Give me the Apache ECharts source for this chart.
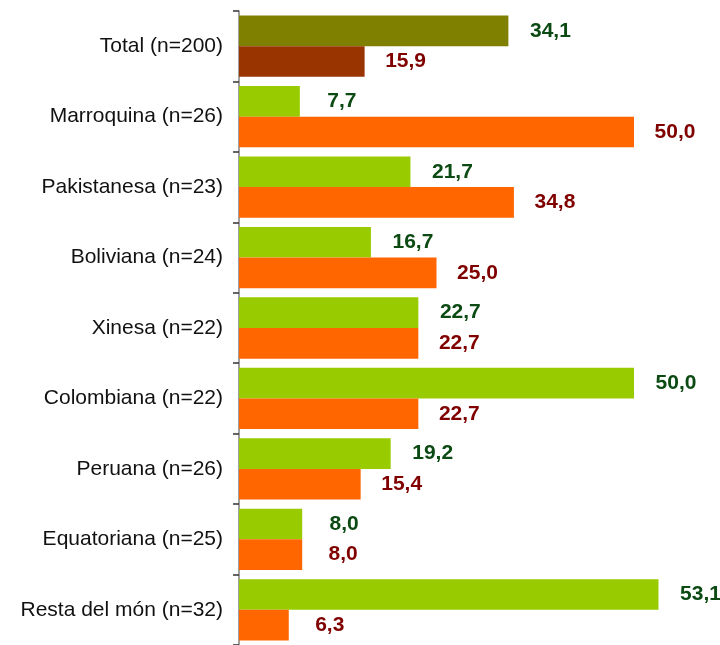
<!DOCTYPE html>
<html>
<head>
<meta charset="utf-8">
<script src="https://cdn.jsdelivr.net/npm/echarts@6/dist/echarts.min.js"></script>
<style>
  html, body { margin: 0; padding: 0; background: #fff; }
  #chart { width: 720px; height: 645px; }
</style>
</head>
<body>
<div id="chart"></div>
<script>
var categories = ['Total (n=200)', 'Marroquina (n=26)', 'Pakistanesa (n=23)', 'Boliviana (n=24)',
  'Xinesa (n=22)', 'Colombiana (n=22)', 'Peruana (n=26)', 'Equatoriana (n=25)', 'Resta del món (n=32)'];
var serieA = [34.1, 7.7, 21.7, 16.7, 22.7, 50.0, 19.2, 8.0, 53.1];
var serieB = [15.9, 50.0, 34.8, 25.0, 22.7, 22.7, 15.4, 8.0, 6.3];

// la barra del total va amb colors propis
function buildData(values, totalColor) {
  return values.map(function (v, i) {
    if (i === 0) return { value: v, itemStyle: { color: totalColor } };
    return v;
  });
}

function fmt(p) { return p.value.toFixed(1).replace('.', ','); }

var chart = echarts.init(document.getElementById('chart'));
chart.setOption({
  animation: false,
  grid: { left: 239, top: 11, right: 7, height: 638 },
  xAxis: {
    type: 'value', min: 0, max: 60, show: false
  },
  yAxis: {
    type: 'category',
    data: categories,
    inverse: true,
    axisLine: { show: true, lineStyle: { color: '#808080', width: 1.5 } },
    axisTick: { show: true, length: 6, lineStyle: { color: '#333', width: 1.5 } },
    axisLabel: { color: '#111', fontSize: 21, fontFamily: 'Liberation Sans', margin: 16 }
  },
  series: [{
    type: 'bar',
    data: buildData(serieA, '#808000'),
    itemStyle: { color: '#99CC00' },
    barGap: '0%',
    barCategoryGap: '13%',
    label: {
      show: true, position: 'right', distance: 42, align: 'center',
      color: '#0B4A12', fontWeight: 'bold', fontSize: 21, fontFamily: 'Liberation Sans',
      formatter: fmt
    }
  }, {
    type: 'bar',
    data: buildData(serieB, '#993300'),
    itemStyle: { color: '#FF6600' },
    barGap: '0%',
    barCategoryGap: '13%',
    label: {
      show: true, position: 'right', distance: 41, align: 'center',
      color: '#800000', fontWeight: 'bold', fontSize: 21, fontFamily: 'Liberation Sans',
      formatter: fmt
    }
  }]
});
</script>
</body>
</html>
